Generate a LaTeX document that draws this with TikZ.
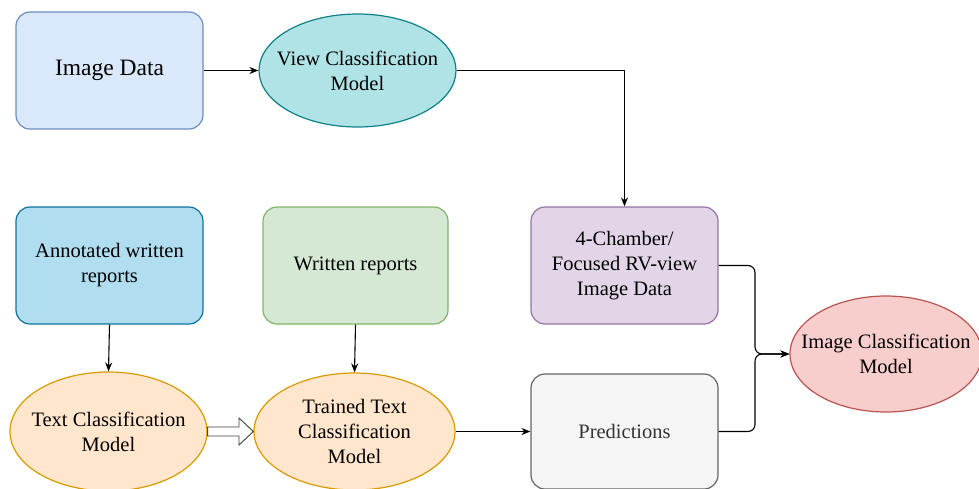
\documentclass[tikz,border=0pt]{standalone}
\usepackage{fontspec}
\setmainfont{Liberation Serif}
\usetikzlibrary{shapes.geometric,arrows.meta}
\definecolor{bluef}{HTML}{DAE8FC}\definecolor{blued}{HTML}{6C8EBF}
\definecolor{tealf}{HTML}{B0E3E6}\definecolor{teald}{HTML}{0E8088}
\definecolor{skyf}{HTML}{B1DDF0}\definecolor{skyd}{HTML}{10739E}
\definecolor{greenf}{HTML}{D5E8D4}\definecolor{greend}{HTML}{82B366}
\definecolor{purpf}{HTML}{E1D5E7}\definecolor{purpd}{HTML}{9673A6}
\definecolor{grayf}{HTML}{F5F5F5}\definecolor{grayd}{HTML}{666666}
\definecolor{redf}{HTML}{F8CECC}\definecolor{redd}{HTML}{B85450}
\definecolor{orf}{HTML}{FFE6CC}\definecolor{ord}{HTML}{D79B00}
\tikzset{
  rbox/.style={rectangle, rounded corners=14pt, line width=1.2pt, minimum width=187pt, minimum height=117pt, inner sep=0pt, align=center, font=\fontsize{20.5}{25}\selectfont},
  ell/.style={ellipse, line width=1.2pt, inner sep=0pt},
  etxt/.style={align=center, inner sep=0pt, font=\fontsize{20.5}{25}\selectfont},
  conn/.style={line width=1.1pt, -{Stealth[length=9pt,width=7pt]}},
  link/.style={conn, rounded corners=7pt},
}
\begin{document}
\begin{tikzpicture}[x=1pt,y=-1pt]
\useasboundingbox (0,0) rectangle (979,488);
\node[rbox, fill=bluef, draw=blued, font=\fontsize{23.5}{28}\selectfont] (img) at (109.5,70.5) {Image Data};
\node[ell, fill=tealf, draw=teald, minimum width=197pt, minimum height=113pt] (view) at (357.5,70.5) {};
\node[etxt] (viewt) at (view) {View Classification\\Model};
\node[rbox, fill=purpf, draw=purpd] (four) at (624.5,265.5) {4-Chamber/\\Focused RV-view\\Image Data};
\node[rbox, fill=grayf, draw=grayd, text=black!80, minimum height=115pt] (pred) at (624.5,431.5) {Predictions};
\node[ell, fill=redf, draw=redd, minimum width=192pt, minimum height=116pt] (icm) at (886,354) {};
\node[etxt] (icmt) at (icm) {Image Classification\\Model};
\node[rbox, fill=skyf, draw=skyd] (ann) at (109.5,265.5) {Annotated written\\reports};
\node[rbox, fill=greenf, draw=greend, minimum width=185pt] (wr) at (355.5,265.5) {Written reports};
\node[ell, fill=orf, draw=ord, minimum width=197pt, minimum height=119pt] (tcm) at (108.5,431.5) {};
\node[etxt] (tcmt) at (tcm) {Text Classification\\Model};
\node[ell, fill=orf, draw=ord, minimum width=201pt, minimum height=117pt] (ttcm) at (354.5,431.5) {};
\node[etxt] (ttcmt) at (ttcm) {Trained Text\\Classification\\Model};
\draw[conn] (img.east) -- (view.west);
\draw[conn] (view.east) -| (four.north);
\draw[conn] (ann.south) -- (tcm.north);
\draw[conn] (wr.south) -- (ttcm.north);
\draw[conn] (ttcm.east) -- (pred.west);
\coordinate (jn) at (755,354);
\draw[link] (four.east) -| (jn) -- (icm.west);
\draw[link] (pred.east) -| (jn) -- (icm.west);
\draw[line width=0.9pt, draw=black!75, fill=white, line join=miter]
  (tcm.east |- 0,427) -- (239,427) -- (239,418) -- (ttcm.west) -- (239,445) -- (239,436) -- (tcm.east |- 0,436) -- cycle;
\end{tikzpicture}
\end{document}
